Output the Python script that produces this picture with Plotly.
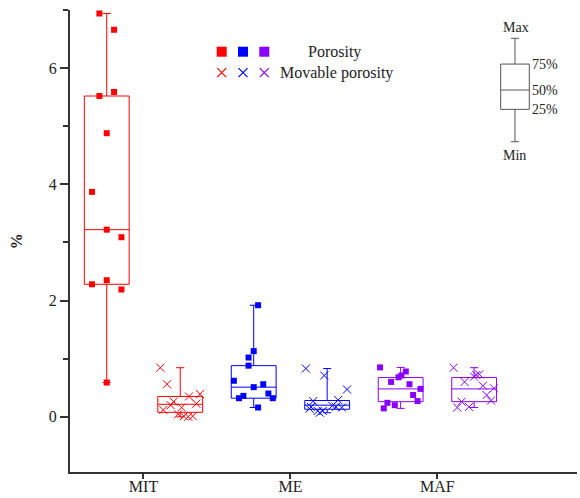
import plotly.graph_objects as go

groups = ["MIT", "ME", "MAF"]
colors = ["#ff0000", "#0000ff", "#8800ff"]

# ---- Porosity (%) ----
mit_por = [6.94, 6.66, 5.52, 5.59, 4.88, 3.87, 3.22, 3.09, 2.28, 2.35, 2.19, 0.59]
me_por = [1.92, 1.13, 1.02, 0.88, 0.62, 0.51, 0.56, 0.40, 0.32, 0.36, 0.32, 0.16]
maf_por = [0.85, 0.78, 0.71, 0.68, 0.60, 0.56, 0.48, 0.375, 0.27, 0.24, 0.20, 0.145]

# ---- Movable porosity (%) ----
mit_mov = [0.845, 0.56, 0.35, 0.39, 0.225, 0.26, 0.20, 0.16, 0.117, 0.043, 0.01, 0.0, 0.01]
me_mov = [0.83, 0.71, 0.47, 0.27, 0.29, 0.17, 0.19, 0.17, 0.16, 0.14, 0.10, 0.07, 0.10]
maf_mov = [0.845, 0.60, 0.69, 0.72, 0.73, 0.535, 0.49, 0.375, 0.28, 0.26, 0.17, 0.16]

# horizontal jitter of the plotted points (category units)
mit_por_jit = [-0.1, 0.1, -0.1, 0.1, 0.0, -0.2, 0.0, 0.2, -0.2, 0.0, 0.2, 0.0]
me_por_jit = [0.06, 0.0, -0.07, -0.07, -0.27, 0.0, 0.13, 0.2, 0.26, -0.14, -0.2, 0.06]
maf_por_jit = [-0.28, 0.07, 0.01, -0.03, -0.13, 0.12, 0.27, 0.17, 0.23, -0.18, -0.08, -0.23]
mit_mov_jit = [-0.27, -0.18, 0.12, 0.27, 0.22, -0.09, -0.13, 0.02, -0.23, -0.03, 0.05, 0.11, 0.17]
me_mov_jit = [-0.29, -0.04, 0.27, -0.19, 0.15, -0.22, 0.07, 0.12, 0.2, -0.24, -0.13, -0.1, -0.06]
maf_mov_jit = [-0.28, -0.13, 0.0, 0.03, 0.07, 0.12, 0.27, 0.17, 0.23, -0.17, -0.07, -0.23]

# box statistics: [min, 25%, 50%, 75%, max]
mit_por_stats = [0.59, 2.28, 3.22, 5.52, 6.94]
me_por_stats = [0.16, 0.32, 0.51, 0.88, 1.92]
maf_por_stats = [0.145, 0.26, 0.48, 0.675, 0.85]
mit_mov_stats = [0.0, 0.077, 0.215, 0.35, 0.845]
me_mov_stats = [0.07, 0.13, 0.20, 0.28, 0.83]
maf_mov_stats = [0.16, 0.26, 0.48, 0.675, 0.845]

# schematic box for the key: [min, 25%, 50%, 75%, max]
key_stats = [0, 3.13, 5.0, 7.51, 10]
key_labels = ["Max", "75%", "50%", "25%", "Min"]

series = [
    (mit_por, mit_por_jit, mit_por_stats, colors[0], "por"),
    (mit_mov, mit_mov_jit, mit_mov_stats, colors[0], "mov"),
    (me_por, me_por_jit, me_por_stats, colors[1], "por"),
    (me_mov, me_mov_jit, me_mov_stats, colors[1], "mov"),
    (maf_por, maf_por_jit, maf_por_stats, colors[2], "por"),
    (maf_mov, maf_mov_jit, maf_mov_stats, colors[2], "mov"),
]

FONT = "Liberation Serif, Times New Roman, serif"
fig = go.Figure()

for i, (vals, jit, st, col, kind) in enumerate(series):
    pos = i + 1
    fig.add_trace(go.Box(
        x=[pos], lowerfence=[st[0]], q1=[st[1]], median=[st[2]], q3=[st[3]], upperfence=[st[4]],
        width=0.61, whiskerwidth=0.18, fillcolor="rgba(0,0,0,0)",
        line=dict(color=col, width=1), boxpoints=False, showlegend=False, hoverinfo="skip",
    ))
for i, (vals, jit, st, col, kind) in enumerate(series):
    pos = i + 1
    xs = [pos + j for j in jit]
    if kind == "por":
        mk = dict(symbol="square", size=6, color=col)
    else:
        mk = dict(symbol="x-thin", size=8, color=col, line=dict(color=col, width=1))
    fig.add_trace(go.Scatter(x=xs, y=vals, mode="markers", marker=mk, showlegend=False,
                             cliponaxis=False))

# key box (schematic)
fig.add_trace(go.Box(
    x=[0.5], lowerfence=[key_stats[0]], q1=[key_stats[1]], median=[key_stats[2]],
    q3=[key_stats[3]], upperfence=[key_stats[4]], width=0.5, whiskerwidth=0.28,
    fillcolor="rgba(0,0,0,0)", line=dict(color="#555555", width=1), boxpoints=False,
    showlegend=False, xaxis="x2", yaxis="y2", hoverinfo="skip",
))

# legend markers
for k, col in enumerate(colors):
    fig.add_trace(go.Scatter(x=[k], y=[1], mode="markers", xaxis="x3", yaxis="y3",
                             marker=dict(symbol="square", size=10, color=col), showlegend=False))
    fig.add_trace(go.Scatter(x=[k], y=[0], mode="markers", xaxis="x3", yaxis="y3",
                             marker=dict(symbol="x-thin", size=9, color=col,
                                         line=dict(color=col, width=1.2)), showlegend=False))

annotations = [
    dict(text="Porosity", x=3.96, y=1, xref="x3", yref="y3", xanchor="left", showarrow=False,
         font=dict(size=16, color="#222")),
    dict(text="Movable porosity", x=2.64, y=0, xref="x3", yref="y3", xanchor="left",
         showarrow=False, font=dict(size=16, color="#222")),
    dict(text=key_labels[0], x=0.52, y=11.0, xref="x2", yref="y2", xanchor="center",
         showarrow=False, font=dict(size=14, color="#222")),
    dict(text=key_labels[1], x=0.76, y=key_stats[3], xref="x2", yref="y2", xanchor="left",
         showarrow=False, font=dict(size=14, color="#222")),
    dict(text=key_labels[2], x=0.76, y=key_stats[2], xref="x2", yref="y2", xanchor="left",
         showarrow=False, font=dict(size=14, color="#222")),
    dict(text=key_labels[3], x=0.76, y=key_stats[1], xref="x2", yref="y2", xanchor="left",
         showarrow=False, font=dict(size=14, color="#222")),
    dict(text=key_labels[4], x=0.5, y=-1.3, xref="x2", yref="y2", xanchor="center",
         showarrow=False, font=dict(size=14, color="#222")),
    dict(text="<b>%</b>", x=-0.106, y=0.5, xref="paper", yref="paper", textangle=-90,
         xanchor="center", yanchor="middle", showarrow=False, font=dict(size=16, color="#222")),
]

fig.update_layout(
    width=580, height=498,
    margin=dict(l=70, r=3, t=10, b=26),
    paper_bgcolor="white", plot_bgcolor="white",
    font=dict(family=FONT, size=16, color="#222"),
    boxmode="overlay",
    xaxis=dict(range=[0.5, 7.4], tickvals=[1.5, 3.5, 5.5], ticktext=groups, automargin=False,
               showgrid=False, zeroline=False, showline=True, linecolor="#333", linewidth=2,
               ticks="outside", ticklen=5, tickcolor="#333", tickwidth=1.5,
               ticklabelstandoff=-6),
    yaxis=dict(range=[-0.95, 7.0], tickvals=[0, 2, 4, 6], showgrid=False, zeroline=False,
               automargin=False,
               showline=True, linecolor="#333", linewidth=2, ticks="outside", ticklen=8,
               tickcolor="#333", tickwidth=1.5,
               minor=dict(tickvals=[1, 3, 5, 7], ticks="outside", ticklen=5,
                          tickcolor="#333", tickwidth=1.5)),
    xaxis2=dict(domain=[0.8213, 0.9341], range=[0, 1], visible=False, anchor="y2"),
    yaxis2=dict(domain=[0.6701, 0.9835], range=[-2, 12], visible=False, anchor="x2"),
    xaxis3=dict(domain=[0.2564, 0.6509], range=[-1.019, 8.37], visible=False, anchor="y3"),
    yaxis3=dict(domain=[0.8377, 0.935], range=[-0.586, 1.557], visible=False, anchor="x3"),
    annotations=annotations,
)

fig.write_html("out.html")
